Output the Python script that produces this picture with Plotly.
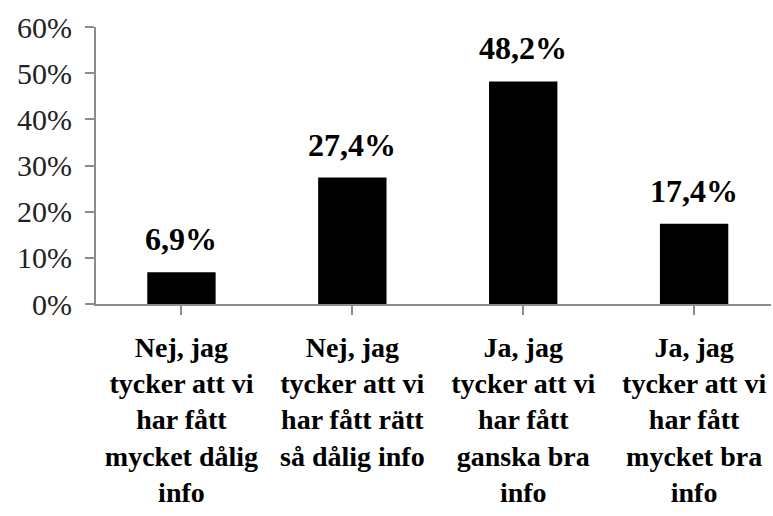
import plotly.graph_objects as go

categories = [
    "Nej, jag<br>tycker att vi<br>har fått<br>mycket dålig<br>info",
    "Nej, jag<br>tycker att vi<br>har fått rätt<br>så dålig info",
    "Ja, jag<br>tycker att vi<br>har fått<br>ganska bra<br>info",
    "Ja, jag<br>tycker att vi<br>har fått<br>mycket bra<br>info",
]
values = [6.9, 27.4, 48.2, 17.4]
value_labels = ["6,9%", "27,4%", "48,2%", "17,4%"]
tick_vals = [0, 10, 20, 30, 40, 50, 60]
tick_text = ["0%", "10%", "20%", "30%", "40%", "50%", "60%"]

SERIF = "Times New Roman, Liberation Serif, serif"

x_idx = list(range(len(categories)))

fig = go.Figure()
fig.add_trace(go.Bar(
    x=x_idx, y=values, width=0.4,
    marker=dict(color="black", line=dict(width=0)),
))

for xi, v, t in zip(x_idx, values, value_labels):
    fig.add_annotation(
        x=xi, y=v, text="<b>%s</b>" % t, showarrow=False, yanchor="bottom", yshift=13,
        font=dict(family=SERIF, size=32, color="black"),
    )

fig.update_layout(
    width=773, height=516,
    margin=dict(l=96, r=2, t=27, b=212),
    paper_bgcolor="white", plot_bgcolor="white",
    showlegend=False,
    font=dict(family=SERIF, color="black"),
)
fig.update_xaxes(
    range=[-0.5, 3.45],
    tickmode="array", tickvals=x_idx, ticktext=["<b>%s</b>" % c for c in categories],
    tickfont=dict(family=SERIF, size=28, color="black"),
    ticks="outside", tickson="boundaries", ticklen=9, tickcolor="#8c8c8c", tickwidth=2,
    showline=True, linecolor="#8c8c8c", linewidth=2, ticklabelstandoff=8,
    showgrid=False, zeroline=False, tickangle=0, automargin=False,
)
fig.update_yaxes(
    range=[0, 60],
    tickmode="array", tickvals=tick_vals, ticktext=tick_text,
    tickfont=dict(family=SERIF, size=30, color="#222222"),
    ticks="outside", ticklen=9, tickcolor="#8c8c8c", tickwidth=2,
    showline=True, linecolor="#8c8c8c", linewidth=2, ticklabelstandoff=7,
    showgrid=False, zeroline=False, automargin=False,
)

fig.write_html("out.html", config={"displayModeBar": False},
               post_script="document.body.style.margin='0px';")
